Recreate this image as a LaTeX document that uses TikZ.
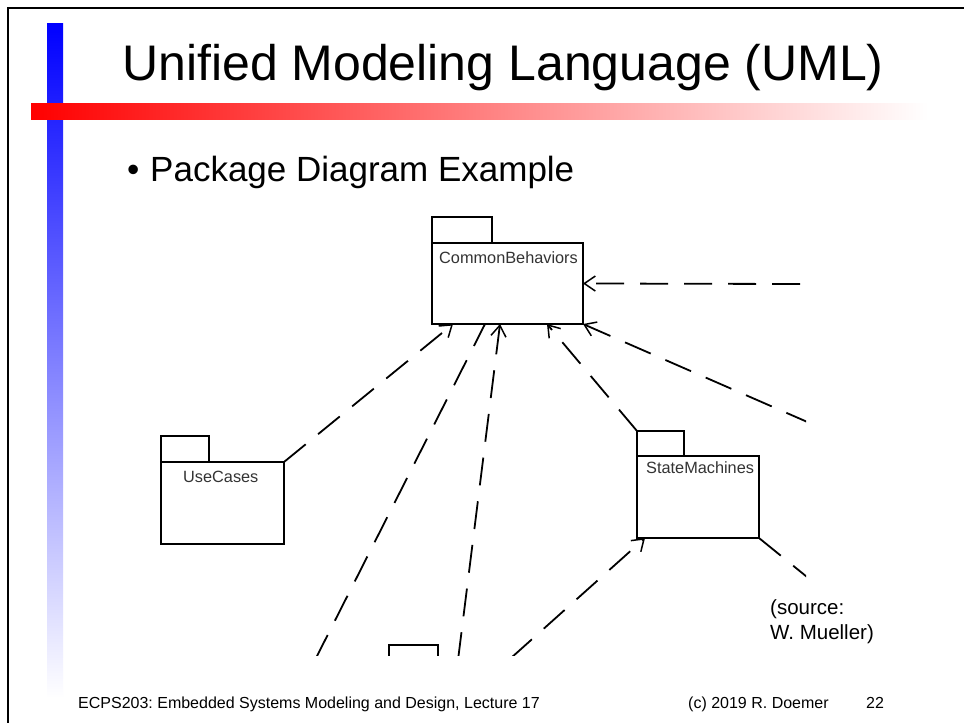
\documentclass[tikz,border=0pt]{standalone}
\usepackage{fontspec}
\setmainfont{Liberation Sans}
\usetikzlibrary{arrows.meta,calc}
\frenchspacing
\begin{document}
\begin{tikzpicture}[x=1pt,y=-1pt,
  pkg/.style={draw=black, line width=1.4pt, fill=white, inner sep=0pt, outer sep=0pt, anchor=north west},
  pkgtab/.style={draw=black, line width=1.4pt, fill=white, inner sep=0pt, outer sep=0pt, anchor=south west, minimum height=26pt},
  dep/.style={line width=1.8pt, dash pattern=on 28pt off 16pt},
  deparrow/.style={dep, -{Straight Barb[length=11pt,width=15pt,line width=1.5pt]}},
  lbl/.style={font=\fontsize{16.3}{16.3}\selectfont, text=black!80, inner sep=0pt, anchor=west},
  txt/.style={inner sep=0pt, anchor=base west},
]
\useasboundingbox (0,0) rectangle (964,723);
\fill[white] (0,0) rectangle (964,723);
% frame
\draw[line width=2.5pt] (8,723) -- (8,8) -- (964,8);
% decorative bars
\shade[top color=blue, bottom color=white] (47,23) rectangle (63,698);
\shade[left color=red, right color=white] (31,103) rectangle (928,119);
% title and bullet
\node[txt, font=\fontsize{50}{50}\selectfont] (title) at (122,80) {Unified Modeling Language (UML)};
\node[txt, font=\fontsize{35}{35}\selectfont] (bullet) at (127,181) {•};
\node[txt, font=\fontsize{35}{35}\selectfont] (sub) at (150,181) {Package Diagram Example};
% diagram
\begin{scope}
\clip (150,200) rectangle (806,655);
\node[pkg, minimum width=151pt, minimum height=81pt] (cb) at (432,243) {};
\node[pkgtab, minimum width=60pt] (cbtab) at (cb.north west) {};
\node[lbl] (cbl) at (439,258) {CommonBehaviors};

\node[pkg, minimum width=123pt, minimum height=82pt] (uc) at (161,462) {};
\node[pkgtab, minimum width=48pt] (uctab) at (uc.north west) {};
\node[lbl] (ucl) at (183,477) {UseCases};

\node[pkg, minimum width=122pt, minimum height=82pt] (sm) at (637,456) {};
\node[pkgtab, minimum width=47pt, minimum height=25pt] (smtab) at (sm.north west) {};
\node[lbl] (sml) at (646,468) {StateMachines};

\node[pkgtab, anchor=north west, minimum width=49pt] (coltab) at (389,645) {};

\coordinate (r1) at (800,284);
\coordinate (c3) at (315,660);
\coordinate (c4) at (458,660);
\coordinate (c6) at (812,424);
\coordinate (c7) at (511,658);
\coordinate (c8) at (812,581);

\draw[deparrow] (r1) -- (cb.east);
\draw[deparrow] (uc.north east) -- ($(cb.south west)+(21,0)$);
\draw[dep] (c3) -- ($(cb.south west)+(53,0)$);
\draw[deparrow] (c4) -- ($(cb.south west)+(68,0)$);
\draw[deparrow] (smtab.north west) -- ($(cb.south west)+(115,0)$);
\draw[deparrow] (c6) -- (cb.south east);
\draw[deparrow] (c7) -- ($(sm.south west)+(8,0)$);
\draw[dep] (sm.south east) -- (c8);
\end{scope}
% source
\node[txt, font=\fontsize{20.5}{20.5}\selectfont] (src1) at (770,614) {(source:};
\node[txt, font=\fontsize{20.5}{20.5}\selectfont] (src2) at (770,639) {W. Mueller)};
% footer
\node[txt, font=\fontsize{16}{16}\selectfont] (f1) at (78,708) {ECPS203: Embedded Systems Modeling and Design, Lecture 17};
\node[txt, font=\fontsize{16}{16}\selectfont] (f2) at (688,708) {(c) 2019 R. Doemer};
\node[txt, font=\fontsize{16}{16}\selectfont] (f3) at (866,708) {22};
\end{tikzpicture}
\end{document}
